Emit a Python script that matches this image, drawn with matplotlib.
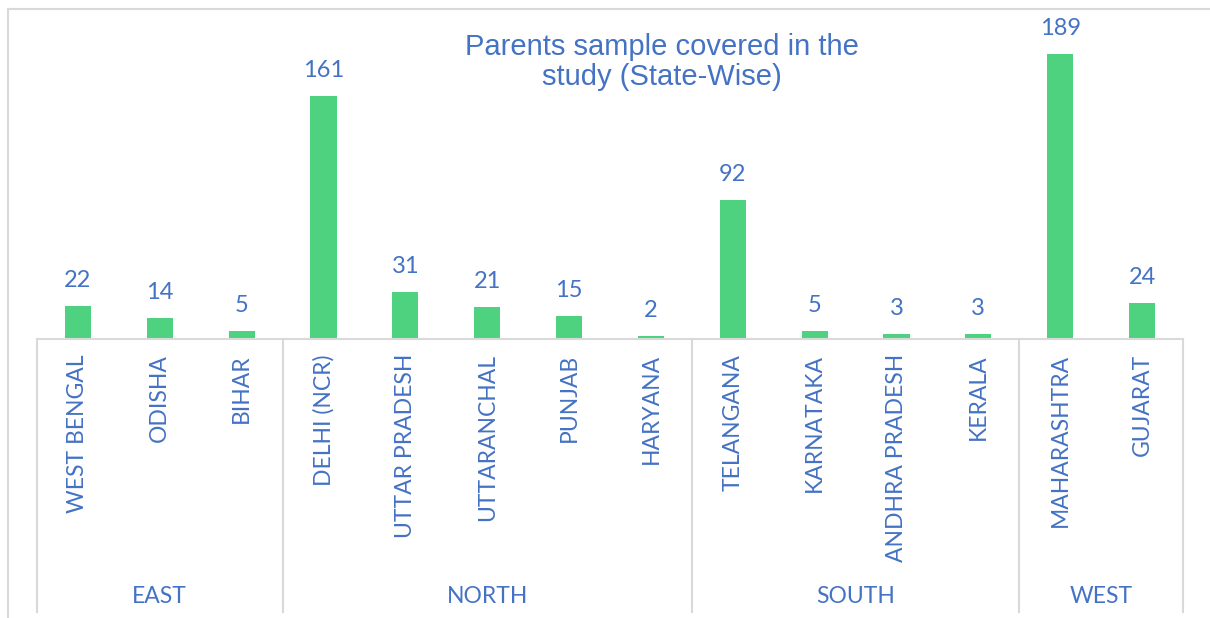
import numpy as np
import matplotlib.pyplot as plt
from matplotlib.lines import Line2D

states = ['WEST BENGAL', 'ODISHA', 'BIHAR',
          'DELHI (NCR)', 'UTTAR PRADESH', 'UTTARANCHAL', 'PUNJAB', 'HARYANA',
          'TELANGANA', 'KARNATAKA', 'ANDHRA PRADESH', 'KERALA',
          'MAHARASHTRA', 'GUJARAT']
counts = [22, 14, 5, 161, 31, 21, 15, 2, 92, 5, 3, 3, 189, 24]
regions = ['EAST', 'NORTH', 'SOUTH', 'WEST']
region_sizes = [3, 5, 4, 2]

blue = '#4472C4'
green = '#4FD27F'
grey = '#D9D9D9'
font_cat = 'Lato'

W, H = 1210, 618
fig = plt.figure(figsize=(W / 100, H / 100), dpi=100)

# outer chart border (top + left visible)
fig.add_artist(Line2D([8 / W, 8 / W], [0, 1 - 9 / H], color=grey, lw=1.5))
fig.add_artist(Line2D([8 / W, 1], [1 - 9 / H, 1 - 9 / H], color=grey, lw=1.5))

left, right = 37 / W, 1183 / W
base = 1 - 339 / H
ax = fig.add_axes([left, base, right - left, (339 - 9) / H])
x = np.arange(len(states))
ax.bar(x, counts, width=0.32, color=green)
ax.set_xlim(-0.5, len(states) - 0.5)
ax.set_ylim(0, (339 - 9) / 1.51)
for xi, v in zip(x, counts):
    ax.text(xi, v + 10, str(v), ha='center', va='bottom', color=blue,
            fontsize=17, family=font_cat)
ax.axis('off')

# category axis below
ax2 = fig.add_axes([left, 6 / H, right - left, base - 6 / H])
ax2.set_xlim(-0.5, len(states) - 0.5)
ax2.set_ylim(0, 1)
ax2.axis('off')
ax2.plot([-0.5, len(states) - 0.5], [1, 1], color=grey, lw=1.5, clip_on=False)
bounds = np.concatenate([[0], np.cumsum(region_sizes)]) - 0.5
for b in bounds:
    ax2.plot([b, b], [0, 1], color=grey, lw=1.5, clip_on=False)
for xi, s in zip(x, states):
    ax2.text(xi, 0.945, s, rotation=90, ha='center', va='top', color=blue,
             fontsize=16.5, family=font_cat)
for i, r in enumerate(regions):
    ax2.text((bounds[i] + bounds[i + 1]) / 2, 0.055, r, ha='center',
             va='center', color=blue, fontsize=16.5, family=font_cat)

fig.text(662 / W, 1 - 62 / H, 'Parents sample covered in the\nstudy (State-Wise)',
         ha='center', va='center', color=blue, fontsize=21,
         family='Liberation Sans', linespacing=1.05)

fig.savefig('out.png', dpi=100)
